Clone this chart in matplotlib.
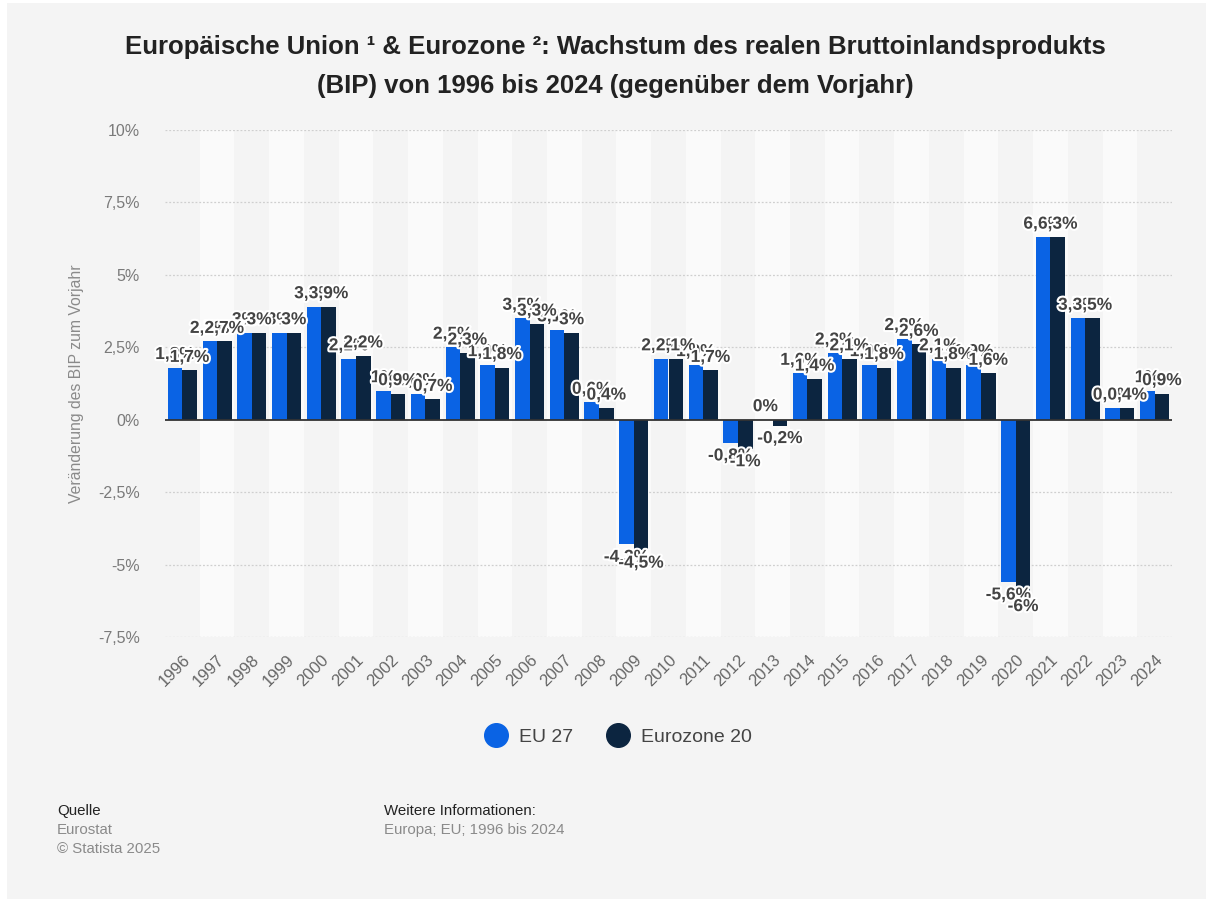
# Statista-style chart: real GDP growth EU 27 vs. Eurozone 20, 1996-2024
import numpy as np
import matplotlib.pyplot as plt
import matplotlib.patheffects as pe
from matplotlib.patches import Rectangle
from matplotlib.lines import Line2D

plt.rcParams["font.family"] = ["Liberation Sans", "DejaVu Sans"]

years = [str(y) for y in range(1996, 2025)]
eu27 = [1.8, 2.7, 3.0, 3.0, 3.9, 2.1, 1.0, 0.9, 2.5, 1.9,
        3.5, 3.1, 0.6, -4.3, 2.1, 1.9, -0.8, 0.0, 1.6, 2.3,
        1.9, 2.8, 2.1, 1.9, -5.6, 6.3, 3.5, 0.4, 1.0]
eurozone20 = [1.7, 2.7, 3.0, 3.0, 3.9, 2.2, 0.9, 0.7, 2.3, 1.8,
              3.3, 3.0, 0.4, -4.5, 2.1, 1.7, -1.0, -0.2, 1.4, 2.1,
              1.8, 2.6, 1.8, 1.6, -6.0, 6.3, 3.5, 0.4, 0.9]
yticks = [-7.5, -5, -2.5, 0, 2.5, 5, 7.5, 10]

EU_COLOR = "#0a63e4"
EZ_COLOR = "#0c2540"
BG = "#f4f4f4"

fig = plt.figure(figsize=(12.12, 8.99), dpi=100, facecolor="white")
fig.patches.append(Rectangle((7 / 1212, 0), 1199 / 1212, 896 / 899,
                             transform=fig.transFigure, facecolor=BG,
                             edgecolor="none", zorder=-10))

ax = fig.add_axes([165 / 1212, 1 - 637 / 899, (1172 - 165) / 1212, (637 - 130) / 899])
ax.set_facecolor(BG)

x = np.arange(len(years))
w = 0.42

# alternating light column bands
for i in x:
    if i % 2 == 1:
        ax.axvspan(i - 0.5, i + 0.5, color="#fafafa", zorder=0, lw=0)

for t in yticks:
    if t != 0:
        ax.axhline(t, color="#cfcfcf", lw=0.9, ls=(0, (1.5, 1.5)), zorder=1)
ax.axhline(0, color="#333333", lw=1.3, zorder=4)

ax.bar(x - w / 2, eu27, w, color=EU_COLOR, zorder=3)
ax.bar(x + w / 2, eurozone20, w, color=EZ_COLOR, zorder=3)

stroke = [pe.withStroke(linewidth=3, foreground="white")]


def fmt(v):
    s = ("%.1f" % v).rstrip("0").rstrip(".")
    if s == "-0":
        s = "0"
    return s.replace(".", ",") + "%"


for xs, vals in ((x - w / 2, eu27), (x + w / 2, eurozone20)):
    for xi, v in zip(xs, vals):
        if v >= 0:
            ax.annotate(fmt(v), (xi, v), xytext=(0, 4), textcoords="offset points",
                        ha="center", va="bottom", fontsize=12.5, fontweight="bold",
                        color="#444444", path_effects=stroke, zorder=6)
        else:
            ax.annotate(fmt(v), (xi, v), xytext=(0, -4), textcoords="offset points",
                        ha="center", va="top", fontsize=12.5, fontweight="bold",
                        color="#444444", path_effects=stroke, zorder=6)

ax.set_xlim(-0.5, len(years) - 0.5)
ax.set_ylim(-7.5, 10)
ax.set_yticks(yticks)
ax.set_yticklabels([fmt(t) for t in yticks], fontsize=11.5, color="#7a7a7a")
ax.set_xticks(x)
ax.set_xticklabels(years, rotation=45, ha="right", rotation_mode="anchor",
                   fontsize=12, color="#666666")
ax.tick_params(axis="both", length=0)
ax.tick_params(axis="y", pad=18)
ax.tick_params(axis="x", pad=11)
for s in ax.spines.values():
    s.set_visible(False)

ax.set_ylabel("Veränderung des BIP zum Vorjahr", fontsize=11.3, color="#8a8a8a", labelpad=10)

fig.text(615 / 1212, 1 - 47 / 899,
         "Europäische Union ¹ & Eurozone ²: Wachstum des realen Bruttoinlandsprodukts",
         ha="center", va="center", fontsize=18.5, fontweight="bold", color="#222222")
fig.text(615 / 1212, 1 - 86 / 899,
         "(BIP) von 1996 bis 2024 (gegenüber dem Vorjahr)",
         ha="center", va="center", fontsize=18.5, fontweight="bold", color="#222222")

handles = [Line2D([], [], marker="o", ls="", markersize=17, color=EU_COLOR),
           Line2D([], [], marker="o", ls="", markersize=17, color=EZ_COLOR)]
fig.legend(handles, ["EU 27", "Eurozone 20"], loc="center",
           bbox_to_anchor=(614 / 1212, 1 - 737 / 899), ncol=2, frameon=False,
           fontsize=14, labelcolor="#444444", handletextpad=0.2, columnspacing=1.3)

fig.text(57 / 1212, 1 - 811 / 899, "Quelle", fontsize=10.8, color="#222222", va="center")
fig.text(57 / 1212, 1 - 830 / 899, "Eurostat", fontsize=10.8, color="#8a8a8a", va="center")
fig.text(57 / 1212, 1 - 849 / 899, "© Statista 2025", fontsize=10.8, color="#8a8a8a", va="center")
fig.text(384 / 1212, 1 - 811 / 899, "Weitere Informationen:", fontsize=10.8, color="#222222", va="center")
fig.text(384 / 1212, 1 - 830 / 899, "Europa; EU; 1996 bis 2024", fontsize=10.8, color="#8a8a8a", va="center")

fig.savefig("out.png", dpi=100, facecolor=fig.get_facecolor())
